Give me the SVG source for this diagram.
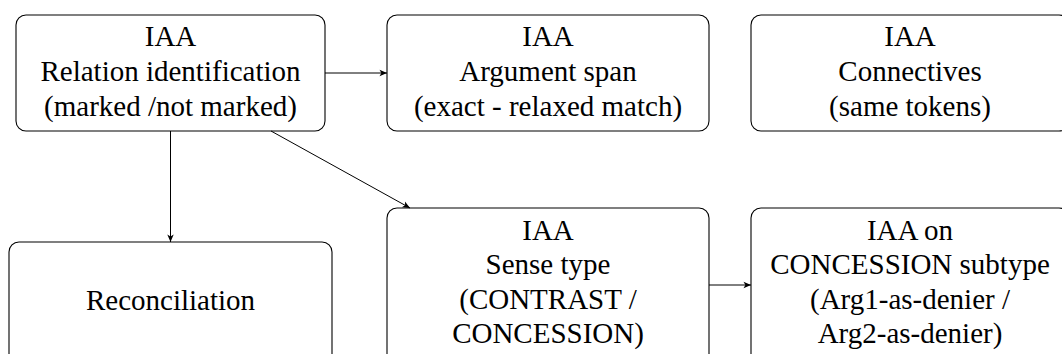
<svg xmlns="http://www.w3.org/2000/svg" width="1062" height="354" viewBox="0 0 1062 354">
  <defs>
    <marker id="tip" viewBox="-8 -4 9 8" refX="0" refY="0" markerWidth="9" markerHeight="8" markerUnits="userSpaceOnUse" orient="auto">
      <path d="M0,0 L-7.5,-3.2 L-5.6,0 L-7.5,3.2 Z" fill="#000"/>
    </marker>
  </defs>

  <!-- all labels: Times-metric serif, 29px, centred -->
  <g id="relation" style="font-family:'Liberation Serif','Times New Roman',serif;font-size:29px" text-anchor="middle">
    <rect x="16" y="15" width="309" height="116" rx="10" fill="#fff" stroke="#000" stroke-width="1.1"/>
    <text x="170.5" y="45.5" style="font-family:'Liberation Serif','Times New Roman',serif">IAA</text>
    <text x="170.5" y="80.5" style="font-family:'Liberation Serif','Times New Roman',serif">Relation identification</text>
    <text x="170.5" y="115.5" style="font-family:'Liberation Serif','Times New Roman',serif">(marked /not marked)</text>
  </g>

  <g id="argspan" style="font-family:'Liberation Serif','Times New Roman',serif;font-size:29px" text-anchor="middle">
    <rect x="387" y="15" width="322" height="116" rx="10" fill="#fff" stroke="#000" stroke-width="1.1"/>
    <text x="548" y="45.5" style="font-family:'Liberation Serif','Times New Roman',serif">IAA</text>
    <text x="548" y="80.5" style="font-family:'Liberation Serif','Times New Roman',serif">Argument span</text>
    <text x="548" y="115.5" style="font-family:'Liberation Serif','Times New Roman',serif">(exact - relaxed match)</text>
  </g>

  <g id="connectives" style="font-family:'Liberation Serif','Times New Roman',serif;font-size:29px" text-anchor="middle">
    <rect x="751" y="15" width="318" height="116" rx="10" fill="#fff" stroke="#000" stroke-width="1.1"/>
    <text x="910" y="45.5" style="font-family:'Liberation Serif','Times New Roman',serif">IAA</text>
    <text x="910" y="80.5" style="font-family:'Liberation Serif','Times New Roman',serif">Connectives</text>
    <text x="910" y="115.5" style="font-family:'Liberation Serif','Times New Roman',serif">(same tokens)</text>
  </g>

  <g id="reconciliation" style="font-family:'Liberation Serif','Times New Roman',serif;font-size:29px" text-anchor="middle">
    <rect x="9" y="242" width="323" height="130" rx="10" fill="#fff" stroke="#000" stroke-width="1.1"/>
    <text x="170.5" y="310" style="font-family:'Liberation Serif','Times New Roman',serif">Reconciliation</text>
  </g>

  <g id="sense" style="font-family:'Liberation Serif','Times New Roman',serif;font-size:29px" text-anchor="middle">
    <rect x="387" y="208" width="322" height="160" rx="10" fill="#fff" stroke="#000" stroke-width="1.1"/>
    <text x="548" y="239.5" style="font-family:'Liberation Serif','Times New Roman',serif">IAA</text>
    <text x="548" y="274" style="font-family:'Liberation Serif','Times New Roman',serif">Sense type</text>
    <text x="548" y="308.5" style="font-family:'Liberation Serif','Times New Roman',serif">(CONTRAST /</text>
    <text x="548" y="343" style="font-family:'Liberation Serif','Times New Roman',serif">CONCESSION)</text>
  </g>

  <g id="subtype" style="font-family:'Liberation Serif','Times New Roman',serif;font-size:29px" text-anchor="middle">
    <rect x="751" y="208" width="318" height="160" rx="10" fill="#fff" stroke="#000" stroke-width="1.1"/>
    <text x="910" y="239.5" style="font-family:'Liberation Serif','Times New Roman',serif">IAA on</text>
    <text x="910" y="274" style="font-family:'Liberation Serif','Times New Roman',serif">CONCESSION subtype</text>
    <text x="910" y="308.5" style="font-family:'Liberation Serif','Times New Roman',serif">(Arg1-as-denier /</text>
    <text x="910" y="343" style="font-family:'Liberation Serif','Times New Roman',serif">Arg2-as-denier)</text>
  </g>

  <g id="connectors" fill="none" stroke="#000" stroke-width="1" marker-end="url(#tip)">
    <line x1="325" y1="73" x2="387" y2="73"/>
    <line x1="170.5" y1="131" x2="170.5" y2="242"/>
    <line x1="271" y1="131" x2="410" y2="208"/>
    <line x1="709" y1="285" x2="751" y2="285"/>
  </g>
</svg>
